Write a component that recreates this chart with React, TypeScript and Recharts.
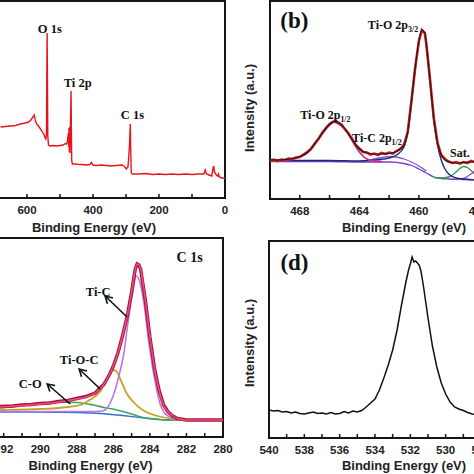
import React from 'react';
import { LineChart, Line, XAxis, YAxis, ReferenceArea, ReferenceDot, ReferenceLine } from 'recharts';

type P = [number, number];

const SANS = '"Liberation Sans", Arial, sans-serif';
const SERIF = '"Liberation Serif", "Times New Roman", serif';

// ---------- Panel (a): survey ----------
const aTicks = [0, 100, 200, 300, 400, 500, 600, 700, 800];
const aTickLabels = [0, 200, 400, 600];
const aSurvey: P[] = [
  [680, 71], [665, 71.5], [650, 72], [635, 72.5], [620, 74], [605, 75], [595, 76], [588, 78], [582, 81], [578, 83],
  [575, 78], [571, 74], [563, 71], [555, 67], [548, 63], [545, 60], [543, 59], [541, 64], [540, 120], [539, 165],
  [538, 118], [537, 62], [535, 53], [530, 52], [520, 52.5], [510, 52], [500, 52.5], [490, 53], [484, 54.5], [480.7, 54],
  [477.7, 56], [474.7, 65], [473.7, 51], [472.7, 70], [471.7, 46], [470.7, 71], [469.7, 45], [468.7, 65], [466.6, 107],
  [464.6, 38], [462.6, 34], [455, 34], [447, 33.7], [435, 33.5], [420, 33], [410, 33.5], [405, 35.5], [400, 33],
  [390, 32.5], [375, 33], [360, 32.5], [345, 32], [330, 32.5], [312, 33], [305, 31.5], [299, 29], [294, 31],
  [289.5, 52], [287, 74], [285.5, 45], [284, 25], [280, 24], [260, 24], [240, 24.5], [220, 23.5], [200, 24],
  [180, 23.5], [160, 24], [140, 23.5], [120, 24], [100, 23.5], [80, 24], [64, 24], [60, 28], [56, 24], [48, 23],
  [40, 22], [36, 30], [34, 32], [32, 26], [26, 23], [22, 22], [20, 24], [17, 21], [10, 20], [5, 20], [0, 19.5],
];
const aLabels = [
  { t: 'O 1s', e: 531, i: 169 },
  { t: 'Ti 2p', e: 446.5, i: 115 },
  { t: 'C 1s', e: 280.6, i: 83 },
];

// ---------- Panel (b): Ti 2p ----------
const bTicks = [452, 454, 456, 458, 460, 462, 464, 466, 468, 470];
const bTickLabels = [456, 460, 464, 468];
const bRaw: P[] = [
  [470, 38.5], [469.75, 39.5], [469.5, 38], [469.25, 39.5], [469, 39], [468.75, 40.5], [468.5, 40], [468.25, 41.5],
  [468, 42], [467.75, 44.5], [467.5, 47], [467.25, 50], [467, 55.5], [466.75, 60], [466.5, 66], [466.25, 71], [466, 75],
  [465.8, 77], [465.6, 78.5], [465.4, 76], [465.2, 74.5], [465, 70.5], [464.75, 66], [464.5, 60.5], [464.25, 54],
  [464, 50.5], [463.75, 47], [463.5, 46.5], [463.25, 44.5], [463, 45.5], [462.75, 44], [462.5, 46], [462.25, 45],
  [462, 46.5], [461.75, 45.5], [461.5, 48], [461.25, 50], [461, 54.5], [460.75, 67], [460.5, 98], [460.25, 131],
  [460, 158], [459.8, 169], [459.6, 166], [459.5, 155], [459.25, 119], [459, 81], [458.75, 56.5], [458.5, 44],
  [458.25, 40], [458, 37.5], [457.75, 36], [457.5, 37], [457.25, 35.5], [457, 37], [456.75, 36], [456.5, 38],
  [456.25, 37], [456, 38], [455.5, 37], [455, 36.5],
];
const bFit: P[] = [
  [470, 39], [469.5, 39], [469, 39.5], [468.5, 40.5], [468, 42.5], [467.5, 46.5], [467, 55], [466.5, 65.5], [466, 74.5],
  [465.7, 77.5], [465.4, 76.5], [465, 71], [464.5, 60], [464, 50], [463.5, 46], [463, 45], [462.5, 45], [462, 45.5],
  [461.5, 47.5], [461, 54], [460.75, 67], [460.5, 98], [460.25, 131], [460, 158], [459.8, 169], [459.6, 166],
  [459.5, 155], [459.25, 119], [459, 81], [458.75, 56], [458.5, 44], [458.25, 39], [458, 37], [457.5, 36],
  [457, 36.5], [456.5, 37], [456, 37.5], [455.5, 37], [455, 36],
];
const bTiO32: P[] = [
  [470, 39], [468, 38.5], [466, 38.5], [464, 38], [463, 39], [462, 41], [461.5, 44], [461, 52], [460.75, 66],
  [460.5, 97], [460.25, 130], [460, 157], [459.8, 168], [459.6, 165], [459.5, 154], [459.25, 118], [459, 79],
  [458.75, 54], [458.5, 39], [458.25, 30], [458, 25], [457.5, 21], [457, 20], [456, 19], [455, 19],
];
const bTiO12: P[] = [
  [470, 38.5], [469, 39], [468.5, 40], [468, 42], [467.5, 46], [467, 54.5], [466.5, 65], [466, 74], [465.7, 77],
  [465.5, 76], [465, 70], [464.5, 59], [464, 47], [463.5, 40], [463, 38], [462.5, 37.5],
];
const bBackground: P[] = [
  [470, 37.5], [468, 37.5], [466, 37.5], [464, 37], [462, 37], [461, 35.5], [460.5, 33.5], [460, 30], [459.5, 26],
  [459, 22], [458.5, 20.5], [458, 20], [457, 19.5], [456, 19], [455, 18.5],
];
const bTiC12: P[] = [
  [464, 37.5], [463.5, 38.5], [463, 40], [462.5, 41.5], [462, 42.5], [461.5, 42], [461, 40], [460.5, 37], [460, 33],
  [459.5, 28],
];
const bSat: P[] = [
  [459, 21.5], [458.5, 21], [458, 22], [457.75, 24], [457.5, 27], [457.25, 30.5], [457, 32.5], [456.75, 31.5],
  [456.5, 28.5], [456.25, 25], [456, 22.5], [455.5, 20], [455, 19],
];
const bTiC32: P[] = [
  [457.5, 19.5], [457, 20.5], [456.5, 25], [456, 31], [455.5, 35], [455, 36], [454.5, 34],
];

// ---------- Panel (c): C 1s ----------
const cTicks = [280, 281, 282, 283, 284, 285, 286, 287, 288, 289, 290, 291, 292, 293, 294];
const cTickLabels = [280, 282, 284, 286, 288, 290, 292];
const cRaw: P[] = [
  [294.5, 29], [293.5, 29.5], [293, 30], [292.2, 30.5], [291.5, 31], [291, 32], [290.5, 32.5], [290, 33.5],
  [289.5, 34], [289, 35.5], [288.5, 36.5], [288, 38.5], [287.5, 40.5], [287, 44], [286.5, 53], [286.2, 63],
  [286, 71], [285.75, 84], [285.5, 101], [285.25, 120], [285, 145], [284.9, 157], [284.8, 168], [284.7, 173],
  [284.6, 172], [284.5, 167], [284.25, 137], [284, 100], [283.75, 69], [283.5, 47], [283.25, 32], [283, 25],
  [282.75, 21], [282.5, 18.5], [282, 17], [281, 17], [280, 17],
];
const cFit: P[] = [
  [294.5, 29], [293, 29.5], [292.2, 30], [291, 31.5], [290, 33], [289, 35], [288, 38], [287.5, 40], [287, 44],
  [286.5, 53], [286.2, 63], [286, 71], [285.75, 84], [285.5, 101], [285.25, 120], [285, 145], [284.9, 157],
  [284.8, 168], [284.7, 173], [284.6, 172], [284.5, 167], [284.25, 137], [284, 100], [283.75, 69], [283.5, 47],
  [283.25, 32], [283, 25], [282.75, 21], [282.5, 18.5], [282, 17], [281, 17], [280, 17],
];
const cTiC: P[] = [
  [294.5, 25.5], [292, 25.5], [290, 25.5], [288, 25.5], [287, 25.5], [286.6, 26], [286.3, 30], [286.1, 37],
  [285.9, 47], [285.7, 61], [285.46, 80], [285.2, 114], [284.92, 147], [284.75, 161], [284.55, 155], [284.32, 133],
  [284.1, 100], [283.83, 67], [283.6, 45], [283.44, 33], [283.2, 24], [282.9, 20], [282.5, 18], [282, 17], [280, 17],
];
const cTiOC: P[] = [
  [294.5, 26.5], [292, 27], [290, 28], [289, 29], [288.5, 30], [287.8, 32], [287.3, 37], [286.7, 46], [286.3, 60],
  [286.05, 67], [285.85, 66], [285.6, 57], [285.25, 43], [284.9, 35], [284.4, 27], [284, 23.5], [283.6, 21],
  [282.7, 18], [282, 17], [280, 17],
];
const cCO: P[] = [
  [294.5, 26], [293, 28], [292.2, 29], [291, 31.5], [290, 33.5], [289, 35], [288, 34.5], [287.1, 32], [286.5, 29.5],
  [285.8, 27], [285, 23], [284.5, 20], [283.5, 17.5], [283, 17], [280, 17],
];
const cBase: P[] = [
  [294.5, 25], [290, 25], [288, 24.5], [286.7, 23.5], [285.5, 21.5], [284.5, 19.5], [283.5, 17.5], [283, 17], [280, 17],
];
const cArrows = [
  { t: 'Ti-C', from: [285.25, 120], to: [286.45, 141], at: [286.83, 145] },
  { t: 'Ti-O-C', from: [286.72, 48], to: [287.87, 68], at: [287.87, 77] },
  { t: 'C-O', from: [288.36, 33], to: [289.62, 53], at: [290.55, 53] },
];

// ---------- Panel (d): O 1s ----------
const dTicks = [525, 526, 527, 528, 529, 530, 531, 532, 533, 534, 535, 536, 537, 538, 539, 540];
const dTickLabels = [528, 530, 532, 534, 536, 538, 540];
const dO1s: P[] = [
  [540, 28], [539.75, 27], [539.5, 27.5], [539.25, 26], [539, 26.5], [538.75, 25], [538.5, 26], [538.25, 24.5],
  [538, 24], [537.75, 25], [537.5, 26], [537.25, 24.5], [537, 25], [536.75, 24], [536.5, 25.5], [536.25, 24],
  [536, 24.5], [535.75, 26.5], [535.5, 25], [535.25, 27], [535, 26], [534.75, 27.5], [534.5, 31], [534.25, 35],
  [534, 39], [533.75, 48], [533.5, 60], [533.25, 73], [533, 88], [532.75, 108], [532.5, 133], [532.25, 156],
  [532.1, 168], [532, 174], [531.9, 181], [531.8, 176], [531.7, 177], [531.6, 175], [531.5, 173], [531.4, 167],
  [531.25, 151], [531, 120], [530.75, 92], [530.5, 71], [530.25, 55], [530, 44], [529.75, 36], [529.5, 31],
  [529.25, 29], [529, 27.5], [528.75, 25.5], [528.5, 24], [528, 23], [527.5, 22.5], [527, 22], [526, 22], [525, 22],
];

const rows = (pts: P[]) => pts.map(([e, v]) => ({ e, v }));

const ML = 50;
const MR = 10;
const MT = 10;
const MB = 45;

function makeTick(labels: number[]) {
  return (props: any) => {
    const { x, y, payload } = props;
    const v = payload.value;
    const show = labels.includes(v);
    return (
      <g>
        <line x1={x} x2={x} y1={y} y2={y - 4} stroke="#111" strokeWidth={1.5} />
        {show && (
          <text x={x} y={y + 16} textAnchor="middle" fontSize={11.5} fontWeight="bold" fontFamily={SANS} fill="#222">
            {v}
          </text>
        )}
      </g>
    );
  };
}

function annShape(main: string, sub: string | null, size: number) {
  return (p: any) => (
    <text x={p.cx} y={p.cy + size * 0.35} textAnchor="middle" fontFamily={SERIF} fontWeight="bold" fontSize={size} fill="#111">
      {main}
      {sub && (
        <tspan fontSize={size * 0.66} dy={size * 0.25}>
          {sub}
        </tspan>
      )}
    </text>
  );
}

const arrowShape = (p: any) => {
  const { x1, y1, x2, y2 } = p;
  const ang = Math.atan2(y2 - y1, x2 - x1);
  const L = 7;
  const W = 4;
  const bx = x2 - L * Math.cos(ang);
  const by = y2 - L * Math.sin(ang);
  const lx = bx + W * Math.sin(ang);
  const ly = by - W * Math.cos(ang);
  const rx = bx - W * Math.sin(ang);
  const ry = by + W * Math.cos(ang);
  return (
    <g>
      <line x1={x1} y1={y1} x2={x2} y2={y2} stroke="#111" strokeWidth={1.6} />
      <polyline points={`${lx},${ly} ${x2},${y2} ${rx},${ry}`} fill="none" stroke="#111" strokeWidth={1.6} />
    </g>
  );
};

type PanelProps = {
  rect: [number, number, number, number];
  domain: [number, number];
  yMax: number;
  ticks: number[];
  labels: number[];
  xTitle: [number, number];
  yTitle?: [number, number];
  children: React.ReactNode;
};

function Panel({ rect, domain, yMax, ticks, labels, xTitle, yTitle, children }: PanelProps) {
  const [px, py, pw, ph] = rect;
  const ox = px - ML;
  const oy = py - MT;
  const W = pw + ML + MR;
  const H = ph + MT + MB;
  return (
    <div style={{ position: 'absolute', left: ox, top: oy, width: W, height: H }}>
      <LineChart width={W} height={H} margin={{ top: MT, right: MR, left: ML - 45, bottom: MB - 40 }}>
        <XAxis
          type="number"
          dataKey="e"
          domain={domain}
          reversed
          allowDataOverflow
          ticks={ticks}
          interval={0}
          height={40}
          tickSize={0}
          tickMargin={0}
          axisLine={false}
          tickLine={false}
          tick={makeTick(labels)}
          label={() => (
            <text
              x={xTitle[0] - ox}
              y={xTitle[1] - oy + 4.5}
              textAnchor="middle"
              fontSize={13}
              fontWeight="bold"
              fontFamily={SANS}
              fill="#222"
            >
              Binding Energy (eV)
            </text>
          )}
        />
        <YAxis
          type="number"
          domain={[0, yMax]}
          allowDataOverflow
          width={45}
          tick={false}
          axisLine={false}
          tickLine={false}
          label={
            yTitle
              ? () => (
                  <text
                    x={yTitle[0] - ox}
                    y={yTitle[1] - oy}
                    transform={`rotate(-90 ${yTitle[0] - ox} ${yTitle[1] - oy})`}
                    dy={4.5}
                    textAnchor="middle"
                    fontSize={13}
                    fontWeight="bold"
                    fontFamily={SANS}
                    fill="#222"
                  >
                    Intensity (a.u.)
                  </text>
                )
              : undefined
          }
        />
        {children}
        <ReferenceArea
          x1={domain[0]}
          x2={domain[1]}
          y1={0}
          y2={yMax}
          fill="none"
          fillOpacity={0}
          stroke="#151515"
          strokeWidth={2}
          strokeOpacity={1}
        />
      </LineChart>
    </div>
  );
}

const ln = (pts: P[], color: string, width: number, type: 'linear' | 'monotone' = 'monotone') => (
  <Line
    data={rows(pts)}
    dataKey="v"
    type={type}
    stroke={color}
    strokeWidth={width}
    dot={false}
    activeDot={false}
    isAnimationActive={false}
  />
);

export default function App() {
  return (
    <div style={{ position: 'fixed', left: 0, top: 0, width: 474, height: 474, overflow: 'hidden', background: '#fff' }}>
      {/* (a) survey */}
      <Panel rect={[-39, 1, 264, 197]} domain={[0, 800]} yMax={197} ticks={aTicks} labels={aTickLabels} xTitle={[94, 227]}>
        {ln(aSurvey, '#e8141c', 1.4, 'linear')}
        {aLabels.map((a) => (
          <ReferenceDot key={a.t} x={a.e} y={a.i} r={1} shape={annShape(a.t, null, 12.5)} />
        ))}
      </Panel>

      {/* (b) Ti 2p */}
      <Panel
        rect={[270, 1, 268, 198]}
        domain={[452, 470]}
        yMax={198}
        ticks={bTicks}
        labels={bTickLabels}
        xTitle={[404, 227]}
        yTitle={[249, 108]}
      >
        {ln(bBackground, '#7b3cc4', 1.3)}
        {ln(bTiC12, '#6a58d8', 1.3)}
        {ln(bSat, '#279a4c', 1.3)}
        {ln(bTiC32, '#9a48d0', 1.3)}
        {ln(bTiO32, '#1d2a7a', 1.4)}
        {ln(bTiO12, '#c42fa0', 1.8)}
        {ln(bRaw, '#d41f1f', 2.6, 'linear')}
        {ln(bFit, '#1a1a1a', 1.1)}
        <ReferenceDot x={468.36} y={179} r={1} shape={annShape('(b)', null, 23)} />
        <ReferenceDot x={461.74} y={174} r={1} shape={annShape('Ti-O 2p', '3/2', 12)} />
        <ReferenceDot x={466.28} y={84} r={1} shape={annShape('Ti-O 2p', '1/2', 12)} />
        <ReferenceDot x={462.82} y={61} r={1} shape={annShape('Ti-C 2p', '1/2', 12)} />
        <ReferenceDot x={457.25} y={46} r={1} shape={annShape('Sat.', null, 12)} />
      </Panel>

      {/* (c) C 1s */}
      <Panel rect={[-42, 238, 265, 199]} domain={[280, 294.5]} yMax={199} ticks={cTicks} labels={cTickLabels} xTitle={[90.5, 465]}>
        {ln(cBase, '#2f6fd6', 1.4)}
        {ln(cCO, '#3aa56a', 1.6)}
        {ln(cTiOC, '#c9a224', 1.8)}
        {ln(cTiC, '#b878ea', 1.6)}
        {ln(cRaw, '#b3122b', 3.4, 'linear')}
        {ln(cFit, '#e0508e', 1.5)}
        {cArrows.map((a) => (
          <ReferenceLine
            key={a.t + 'arrow'}
            segment={[
              { x: a.from[0], y: a.from[1] },
              { x: a.to[0], y: a.to[1] },
            ]}
            shape={arrowShape}
          />
        ))}
        {cArrows.map((a) => (
          <ReferenceDot key={a.t} x={a.at[0]} y={a.at[1]} r={1} shape={annShape(a.t, null, 12.5)} />
        ))}
        <ReferenceDot x={281.83} y={180} r={1} shape={annShape('C 1s', null, 14)} />
      </Panel>

      {/* (d) O 1s */}
      <Panel
        rect={[269, 241, 265, 197]}
        domain={[525, 540]}
        yMax={197}
        ticks={dTicks}
        labels={dTickLabels}
        xTitle={[404, 465]}
        yTitle={[249, 343]}
      >
        {ln(dO1s, '#111', 1.5, 'linear')}
        <ReferenceDot x={538.56} y={176} r={1} shape={annShape('(d)', null, 23)} />
      </Panel>
    </div>
  );
}
